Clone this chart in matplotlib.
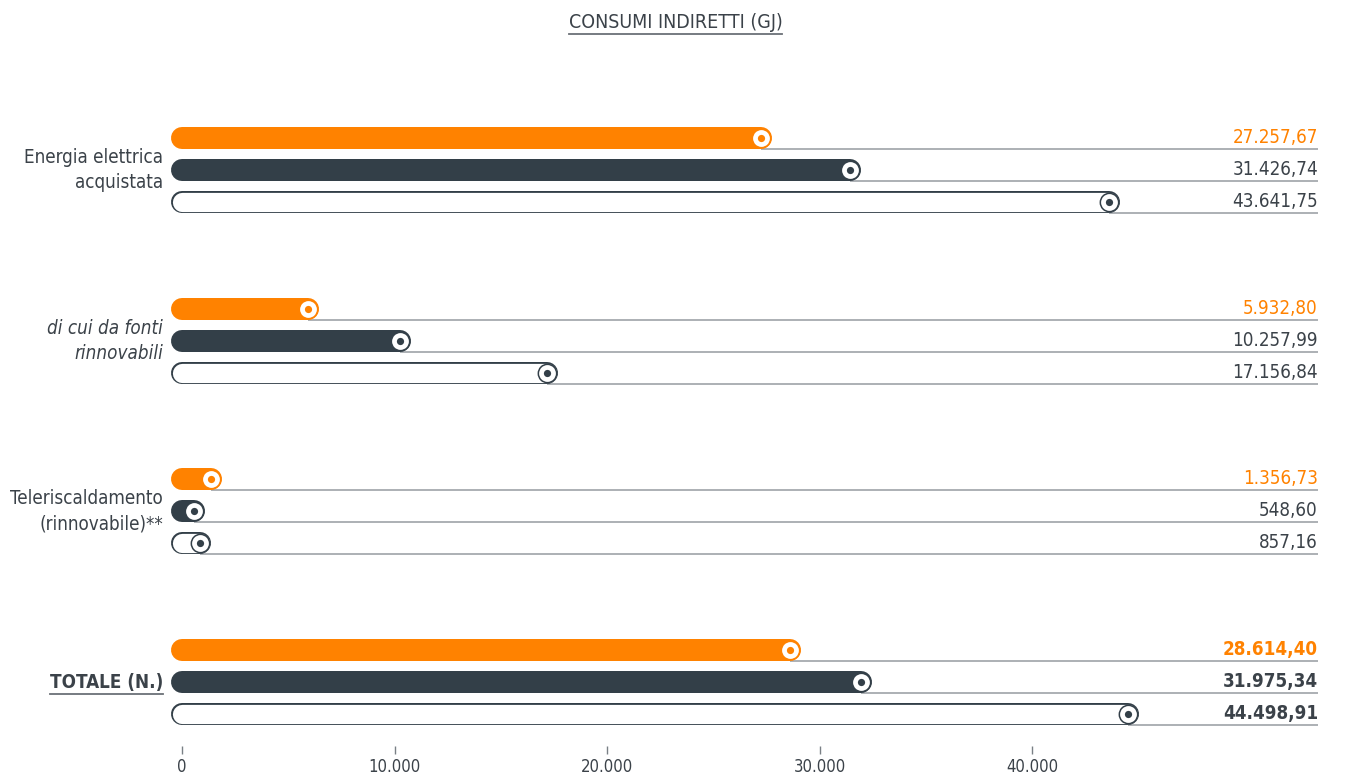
import matplotlib
matplotlib.use("Agg")
import matplotlib.pyplot as plt
from matplotlib.lines import Line2D
import matplotlib.transforms as mtransforms

# data
categories = ["Energia elettrica\nacquistata", "di cui da fonti\nrinnovabili",
              "Teleriscaldamento\n(rinnovabile)**", "TOTALE (N.)"]
serie_a = [27257.67, 5932.80, 1356.73, 28614.40]   # arancione
serie_b = [31426.74, 10257.99, 548.60, 31975.34]   # scuro
serie_c = [43641.75, 17156.84, 857.16, 44498.91]   # bianco
ticks = [0, 10000, 20000, 30000, 40000]

ORANGE = "#ff8200"
DARK = "#333f48"
TEXT = "#3b4249"
GRAY = "#9ea3a8"

plt.rcParams['font.family'] = ['DejaVu Sans']
plt.rcParams['font.stretch'] = 'condensed'

def fmt(v):
    s = f"{v:,.2f}"
    return s.replace(",", "X").replace(".", ",").replace("X", ".")

W, H = 1351, 779
fig = plt.figure(figsize=(W / 100, H / 100), dpi=100)
# axes: x=0 at 182px, right edge 1318px; rows 32px apart
ax_l, ax_r, ax_t, ax_b = 182, 1318, 106, 746
ax = fig.add_axes([ax_l / W, 1 - ax_b / H, (ax_r - ax_l) / W, (ax_b - ax_t) / H])
px_per_unit = 21.25 / 1000
xmax = (ax_r - ax_l) / px_per_unit
row_px = 32
ax.set_xlim(0, xmax)
ax.set_ylim((ax_b - ax_t) / row_px, 0)
for s in ax.spines.values():
    s.set_visible(False)
ax.set_yticks([])
ax.set_xticks(ticks)
ax.set_xticklabels([fmt(t)[:-3] for t in ticks])
ax.tick_params(axis='x', direction='out', length=6, width=1, color="#7a8086",
               labelcolor=TEXT, labelsize=12, pad=3)

group_gap = 170.67 / row_px
bar_lw = 22 * 0.72
cap_off = 11 / row_px

for g, cat in enumerate(categories):
    y0 = 1 + g * group_gap
    total = (g == 3)
    weight = 'bold' if total else 'normal'
    rows = [(serie_a[g], ORANGE, ORANGE), (serie_b[g], DARK, TEXT), (serie_c[g], None, TEXT)]
    for r, (v, col, tcol) in enumerate(rows):
        y = y0 + r
        ax.plot([v, xmax], [y + cap_off, y + cap_off], color=GRAY, lw=1.2, zorder=1,
                solid_capstyle='butt')
        if col is None:
            ax.plot([0, v], [y, y], color=DARK, lw=bar_lw, solid_capstyle='round',
                    zorder=2, clip_on=False)
            ax.plot([0, v], [y, y], color="white", lw=bar_lw - 2.0, solid_capstyle='round',
                    zorder=3, clip_on=False)
            mcol = DARK
        else:
            ax.plot([0, v], [y, y], color=col, lw=bar_lw, solid_capstyle='round',
                    zorder=2, clip_on=False)
            mcol = col
        ax.plot([v], [y], marker='o', ms=13.2, mfc="white", mec=mcol, mew=1.1,
                zorder=4, clip_on=False)
        ax.plot([v], [y], marker='o', ms=5.2, mfc=mcol, mec=mcol, mew=0,
                zorder=5, clip_on=False)
        ax.text(xmax, y - 0.02, fmt(v), ha='right', va='center', color=tcol,
                fontsize=13.5, fontweight=weight)
    # category label
    trans = mtransforms.blended_transform_factory(ax.transAxes, ax.transData)
    lx = (163 - ax_l) / (ax_r - ax_l)
    style = 'italic' if g == 1 else 'normal'
    t = ax.text(lx, y0 + 1, cat, transform=trans, ha='right', va='center', color=TEXT,
                fontsize=13.5, fontweight=weight, fontstyle=style, linespacing=1.4)
    if total:
        total_label = t

title = fig.text(0.5, 1 - 22 / H, "CONSUMI INDIRETTI (GJ)", ha='center', va='center',
                 color=TEXT, fontsize=14)

fig.canvas.draw()
rend = fig.canvas.get_renderer()
for t, gap in [(title, 4), (total_label, 4)]:
    bb = t.get_window_extent(rend)
    fig.add_artist(Line2D([bb.x0, bb.x1], [bb.y0 - gap + 2, bb.y0 - gap + 2],
                          transform=mtransforms.IdentityTransform(), color="#6b7177", lw=1.3))

fig.savefig("out.png", dpi=100)
